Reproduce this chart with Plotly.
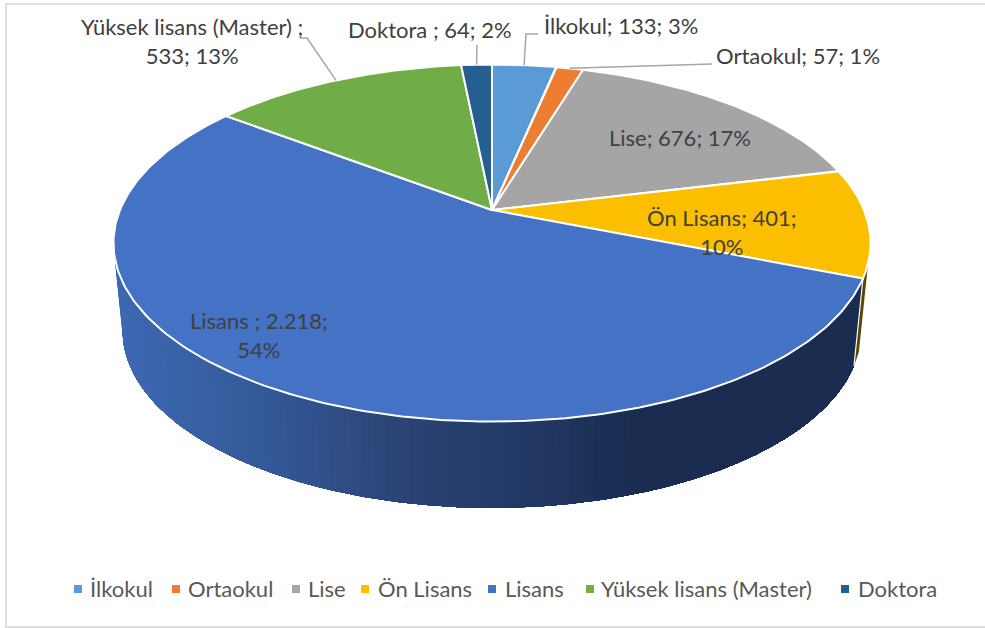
import numpy as np
import plotly.graph_objects as go

categories = ["İlkokul", "Ortaokul", "Lise", "Ön Lisans", "Lisans", "Yüksek lisans (Master)", "Doktora"]
values = [133, 57, 676, 401, 2218, 533, 64]
value_labels = ["133", "57", "676", "401", "2.218", "533", "64"]
colors = ["#5B9BD5", "#ED7D31", "#A5A5A5", "#FBBF00", "#4472C4", "#70AD47", "#255E91"]
sliver_color = "#5c4500"
label_sep = [";", ";", ";", ";", " ;", " ;", " ;"]

W, H = 985, 628
CX, AY = 492, 210               # apex of the pie top
A, B, K = 372, 172.4, 0.185     # perspective projection of the top disc
A2, B2, AY2 = 363, 171, 298     # bottom disc

total = sum(values)
fr = np.array(values) / total
edges = np.concatenate([[0], np.cumsum(fr)]) * 2 * np.pi

def top(t):
    d = 1 + K * np.cos(t)
    return CX + A * np.sin(t) / d, AY - B * np.cos(t) / d

def bot(t):
    d = 1 + K * np.cos(t)
    return CX + A2 * np.sin(t) / d, AY2 - B2 * np.cos(t) / d

fig = go.Figure()

def band(t):
    xu, yu = top(t); xl, yl = bot(t)
    return list(xu) + list(xl[::-1]), list(yu) + list(yl[::-1])

# side wall: Ön Lisans sliver
sx, sy = band(np.linspace(np.radians(107), edges[4], 20))
fig.add_trace(go.Scatter(x=sx, y=sy, fill="toself", mode="lines", line=dict(width=0),
                         fillcolor=sliver_color, hoverinfo="skip", showlegend=False))

# side wall: Lisans, shaded left to right; each band covers the rest of the arc, so no seams
stop_x = [115, 270, 385, 520, 640, 870]
stop_r = [62, 52, 44, 34, 26, 26]
stop_g = [105, 88, 69, 57, 44, 44]
stop_b = [179, 150, 119, 101, 80, 80]
n = 110
t_left = np.radians(285)
ts = np.linspace(t_left, edges[4], n + 1)
for i in range(n):
    t = np.linspace(ts[i], edges[4], max(2, (n - i) + 1))
    xb, yb = band(t)
    px = top(ts[i])[0]
    col = "rgb(%d,%d,%d)" % (np.interp(px, stop_x, stop_r), np.interp(px, stop_x, stop_g), np.interp(px, stop_x, stop_b))
    fig.add_trace(go.Scatter(x=xb, y=yb, fill="toself", mode="lines", line=dict(width=0),
                             fillcolor=col, hoverinfo="skip", showlegend=False))
# white edge of the Lisans wall
ex0, ey0 = top(edges[4]); ex1, ey1 = bot(edges[4])
fig.add_trace(go.Scatter(x=[ex0, ex1], y=[ey0, ey1], mode="lines", line=dict(width=1.2, color="white"),
                         hoverinfo="skip", showlegend=False))

# top face
for i, name in enumerate(categories):
    t = np.linspace(edges[i], edges[i + 1], 200)
    xr, yr = top(t)
    fig.add_trace(go.Scatter(x=[CX] + list(xr) + [CX], y=[AY] + list(yr) + [AY], fill="toself",
                             mode="lines", line=dict(width=2, color="white"), fillcolor=colors[i],
                             name=name, showlegend=False, hoverinfo="name"))

# leader lines from slice mid-rim to label elbow
mid = (edges[:-1] + edges[1:]) / 2
leaders = {0: [(526, 34), (538, 34)], 1: [(712, 64)], 5: [(307, 38), (300, 38)], 6: [(477, 45)]}
for i, pts in leaders.items():
    x0, y0 = top(mid[i])
    fig.add_trace(go.Scatter(x=[x0] + [p[0] for p in pts], y=[y0] + [p[1] for p in pts], mode="lines",
                             line=dict(width=1.5, color="#A6A6A6"), hoverinfo="skip", showlegend=False))

# data labels
FONT = "Lato"
pct = [f"{round(f * 100)}%" for f in fr]
label_pos = [(620.5, 25), (798, 55), (680, 137), (722, 232), (259, 335), (192, 41), (430, 29)]
ann = []
for i, name in enumerate(categories):
    if i == 5:
        txt = f"{name}{label_sep[i]}<br>{value_labels[i]}; {pct[i]}"
    elif i in (3, 4):
        txt = f"{name}{label_sep[i]} {value_labels[i]};<br>{pct[i]}"
    else:
        txt = f"{name}{label_sep[i]} {value_labels[i]}; {pct[i]}"
    ann.append(dict(x=label_pos[i][0], y=label_pos[i][1], text=txt, showarrow=False, xref="x", yref="y",
                    font=dict(family=FONT, size=22, color="#404040"), align="center"))

# legend row
leg_marker_x = [78, 176, 296, 365, 492, 590, 845]
leg_text_x = [88, 186, 306, 376, 503, 599, 856]
leg_y = 589
for i, name in enumerate(categories):
    fig.add_trace(go.Scatter(x=[leg_marker_x[i]], y=[leg_y], mode="markers",
                             marker=dict(symbol="square", size=8, color=colors[i]),
                             hoverinfo="skip", showlegend=False))
    ann.append(dict(x=leg_text_x[i], y=leg_y - 1, text=name, showarrow=False, xanchor="left", xref="x", yref="y",
                    font=dict(family=FONT, size=22, color="#595959")))

fig.update_layout(
    width=W, height=H, margin=dict(l=0, r=0, t=0, b=0), autosize=False,
    paper_bgcolor="white", plot_bgcolor="white", annotations=ann,
    xaxis=dict(range=[0, W], visible=False, fixedrange=True),
    yaxis=dict(range=[H, 0], visible=False, fixedrange=True),
    shapes=[dict(type="rect", xref="x", yref="y", x0=6, y0=4, x1=995, y1=627,
                 line=dict(color="#DEDEDE", width=2))],
)
fig.write_html("out.html", config=dict(displayModeBar=False),
               post_script="document.body.style.margin='0';document.body.style.overflow='hidden';")
